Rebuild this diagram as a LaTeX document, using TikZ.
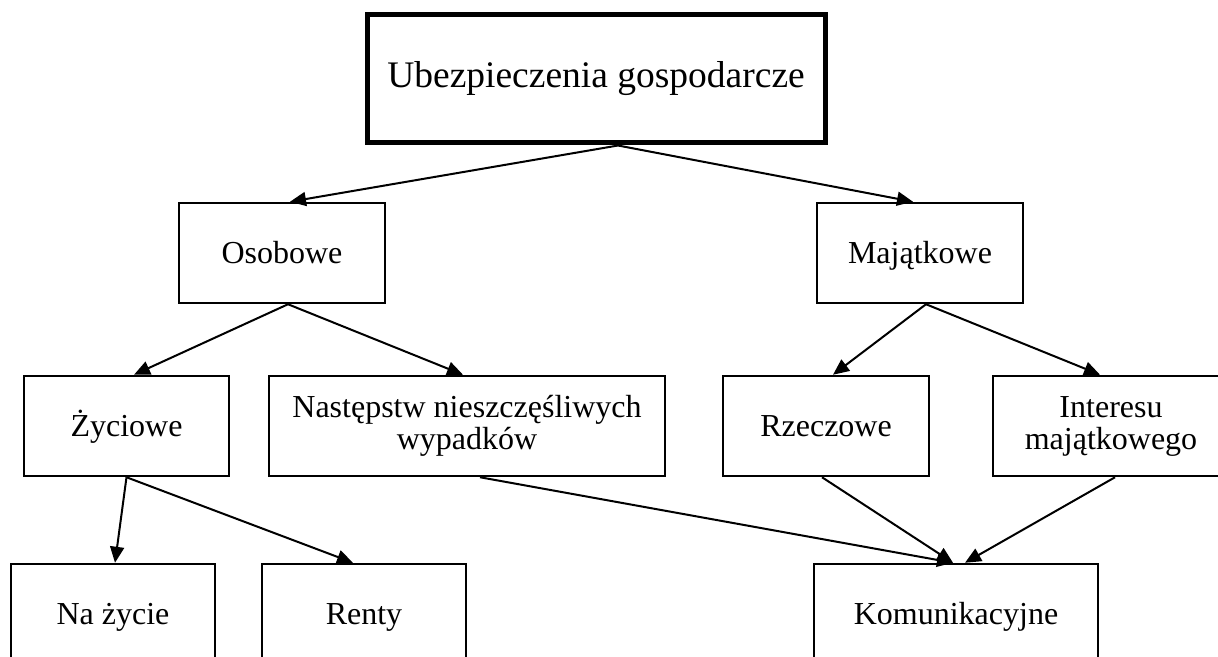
\documentclass[tikz,border=0pt]{standalone}
\usepackage{fontspec}
\setmainfont{Liberation Serif}
\usetikzlibrary{arrows.meta}
\tikzset{
  kat/.style={draw, line width=1.25pt, inner sep=0pt, minimum height=50pt, align=center, font=\fontsize{16}{16}\selectfont},
  jedna/.style={kat, text height=10.6pt, text depth=0pt},
  strz/.style={->, line width=1pt},
}

\begin{document}
\begin{tikzpicture}[x=0.5pt,y=-0.5pt,>={Triangle[length=8pt,width=7pt]}]
\useasboundingbox (0,0) rectangle (1218,657);
\clip (0,0) rectangle (1218,657);

\node[kat, line width=2.5pt, minimum width=229pt, minimum height=64pt, font=\fontsize{18.75}{20}\selectfont] (ubezp) at (596,79) {Ubezpieczenia gospodarcze};
\node[jedna, minimum width=103pt] (osob) at (282,253) {Osobowe};
\node[jedna, minimum width=103pt] (majat) at (920,253) {Majątkowe};
\node[jedna, minimum width=102.5pt] (zyc) at (126.5,426) {Życiowe};
\node[kat, minimum width=198pt] (nast) at (467,426) {Następstw nieszczęśliwych\\wypadków};
\node[jedna, minimum width=103pt] (rzecz) at (826,426) {Rzeczowe};
\node[kat, minimum width=118pt] (inter) at (1111,426) {Interesu\\majątkowego};
\node[jedna, minimum width=102pt] (nazyc) at (113,614) {Na życie};
\node[jedna, minimum width=102pt] (renty) at (364,614) {Renty};
\node[jedna, minimum width=142pt] (komun) at (956,614) {Komunikacyjne};

\draw[strz] ([xshift=11pt]ubezp.south) -- ([xshift=4pt]osob.north);
\draw[strz] ([xshift=11pt]ubezp.south) -- ([xshift=-3.5pt]majat.north);
\draw[strz] ([xshift=3pt]osob.south) -- ([xshift=3.75pt]zyc.north);
\draw[strz] ([xshift=3pt]osob.south) -- ([xshift=-2pt]nast.north);
\draw[strz] ([xshift=3pt]majat.south) -- ([xshift=3.5pt]rzecz.north);
\draw[strz] ([xshift=3pt]majat.south) -- ([xshift=-5.5pt]inter.north);
\draw[strz] (zyc.south) -- ([xshift=1pt]nazyc.north);
\draw[strz] (zyc.south) -- ([xshift=-5.5pt]renty.north);
\draw[strz] ([xshift=6.5pt]nast.south) -- ([xshift=-1.5pt]komun.north);
\draw[strz] ([xshift=-2pt]rzecz.south) -- ([xshift=-1.5pt]komun.north);
\draw[strz] ([xshift=2pt]inter.south) -- ([xshift=4.5pt]komun.north);

\end{tikzpicture}
\end{document}
